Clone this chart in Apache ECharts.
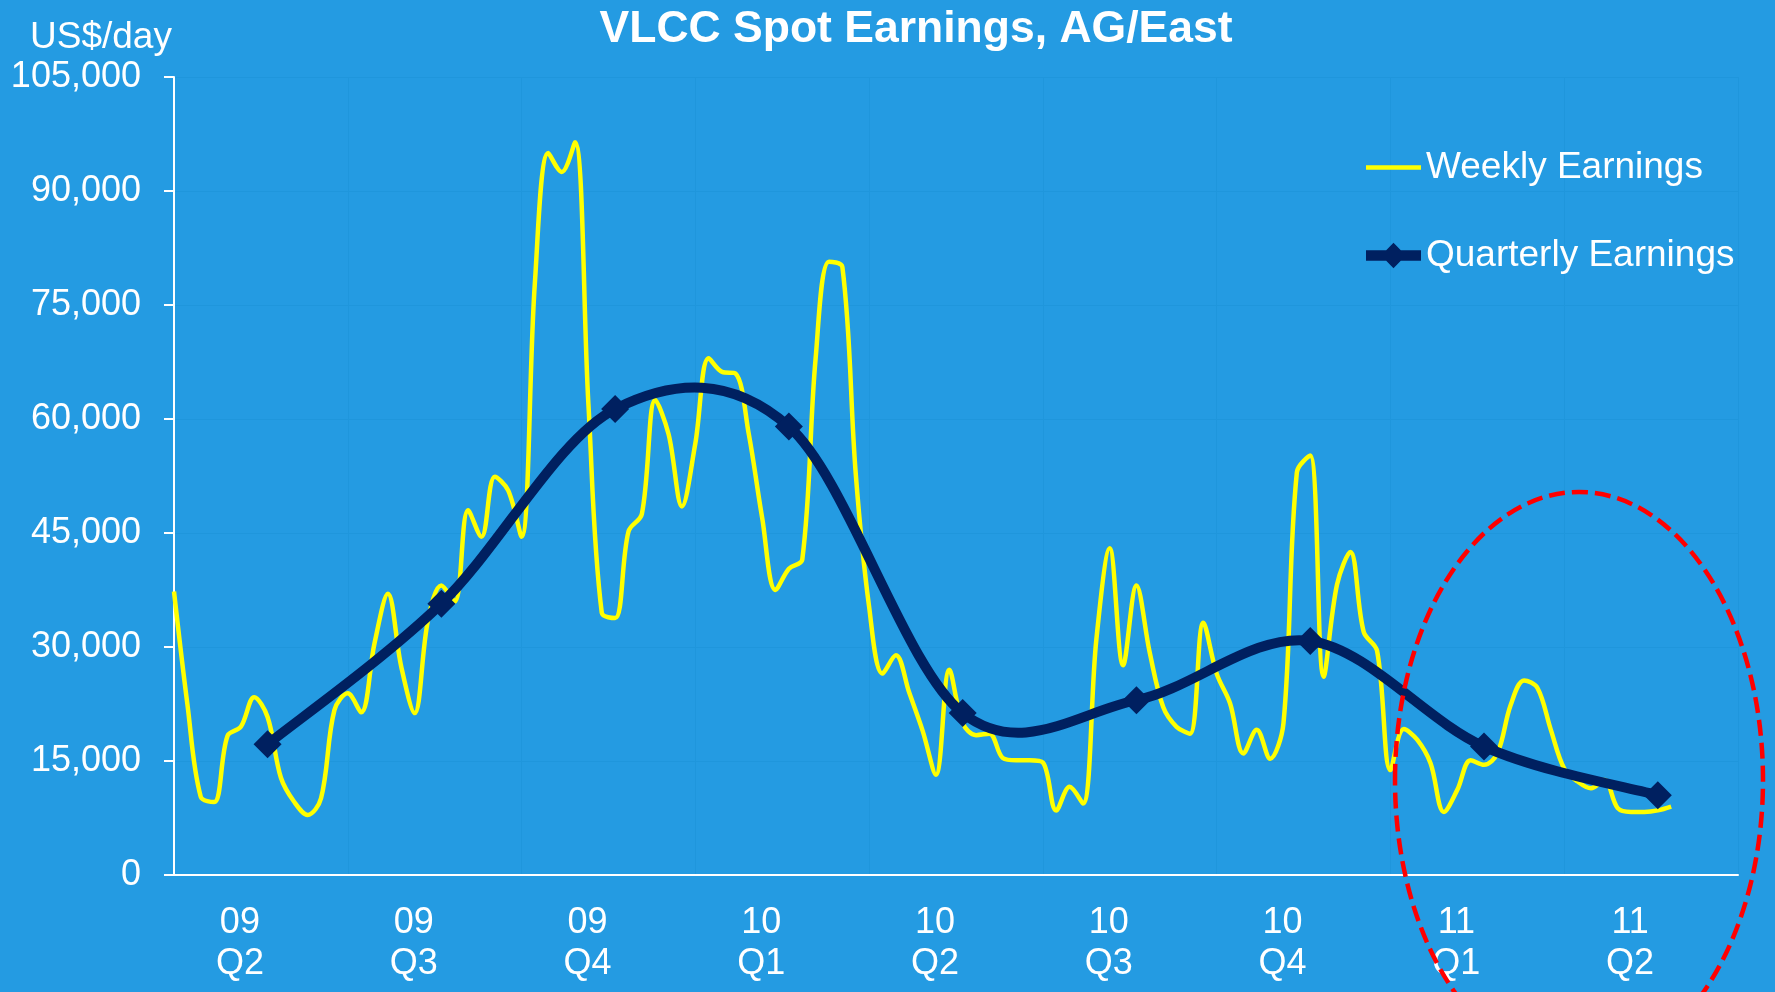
<!DOCTYPE html>
<html>
<head>
<meta charset="utf-8">
<title>VLCC Spot Earnings, AG/East</title>
<script src="https://cdn.jsdelivr.net/npm/echarts@6/dist/echarts.min.js"></script>
<style>
	html, body { margin: 0; padding: 0; background: #249be2; }
	#main { width: 1775px; height: 992px; }
</style>
</head>
<body>
<div id="main"></div>
<script>
// x axis: quarters
var quarters = ['09\nQ2', '09\nQ3', '09\nQ4', '10\nQ1', '10\nQ2', '10\nQ3', '10\nQ4', '11\nQ1', '11\nQ2'];
var weeksPerQuarter = 13;
// weekly earnings, US$/day, one value a week from the start of 09 Q2
var weeklyEarnings = [
	37300, 22500, 10300, 9600, 18300, 19500, 23400, 20800, 12800, 9600,
	7900, 10100, 21700, 23900, 21400, 30500, 37000, 27400, 21300, 33500,
	38100, 36000, 48000, 44500, 52400, 50600, 44500, 78000, 95000, 92500,
	96400, 62000, 34500, 33800, 45200, 47500, 62500, 58000, 48500, 56800,
	68000, 66200, 66000, 58000, 47000, 37500, 40300, 41500, 68000, 80700,
	80000, 52800, 35300, 26500, 28900, 24000, 19000, 13200, 27000, 20000,
	18400, 18600, 15400, 15100, 15100, 14800, 8500, 11600, 9400, 31000,
	43000, 27600, 38100, 29200, 22100, 19500, 18600, 33200, 26500, 22600,
	16000, 19100, 15300, 20000, 53000, 55200, 26100, 38200, 42500, 32000,
	29500, 13800, 19200, 17800, 14700, 8300, 11200, 15100, 14500, 16000,
	22400, 25600, 24600, 19100, 14000, 12300, 11400, 12500, 8800, 8300,
	8300, 8500, 9000
];
// quarterly earnings and the week each one is plotted at
var quarterlyWeek = [7, 20, 33, 46, 59, 72, 85, 98, 111];
var quarterlyEarnings = [17200, 35700, 61300, 59000, 21300, 23000, 30800, 16900, 10500];
// y axis
var yMin = 0, yMax = 105000, yStep = 15000;

var FONT = '"Liberation Sans", Arial, sans-serif';
var NAVY = '#002060';

function thousands(v) {
	return String(v).replace(/\B(?=(\d{3})+(?!\d))/g, ',');
}

var myChart = echarts.init(document.getElementById('main'));

var weeklyData = weeklyEarnings.map(function (v, i) { return [i, v]; });
var quarterlyData = quarterlyEarnings.map(function (v, i) { return [quarterlyWeek[i], v]; });

// excel style spline: one bezier piece from point i to point i+1
function quarterlyCurve(params, api) {
	var i = params.dataIndex;
	var n = quarterlyData.length;
	if (i >= n - 1) {
		return { type: 'group', children: [] };
	}
	var pt = function (k) {
		k = Math.max(0, Math.min(n - 1, k));
		return api.coord(quarterlyData[k]);
	};
	var p0 = pt(i - 1), p1 = pt(i), p2 = pt(i + 1), p3 = pt(i + 2);
	return {
		type: 'bezierCurve',
		shape: {
			x1: p1[0], y1: p1[1],
			x2: p2[0], y2: p2[1],
			cpx1: p1[0] + (p2[0] - p0[0]) / 6, cpy1: p1[1] + (p2[1] - p0[1]) / 6,
			cpx2: p2[0] - (p3[0] - p1[0]) / 6, cpy2: p2[1] - (p3[1] - p1[1]) / 6
		},
		style: { stroke: NAVY, lineWidth: 10, fill: null, lineCap: 'round' }
	};
}

var option = {
	animation: false,
	backgroundColor: '#249be2',
	title: [{
		text: 'VLCC Spot Earnings, AG/East',
		left: 916,
		top: 7,
		padding: 0,
		textAlign: 'center',
		textStyle: { color: '#fff', fontSize: 44.5, fontWeight: 'bold', fontFamily: FONT }
	}, {
		text: 'US$/day',
		left: 30,
		top: 19,
		padding: 0,
		textStyle: { color: '#fff', fontSize: 37, fontWeight: 'normal', fontFamily: FONT }
	}],
	legend: {
		orient: 'vertical',
		left: 1366,
		top: 149,
		padding: 0,
		itemWidth: 55,
		itemHeight: 28,
		itemGap: 51,
		symbolKeepAspect: true,
		textStyle: { color: '#fff', fontSize: 37, fontFamily: FONT },
		data: [{
			name: 'Weekly Earnings',
			icon: 'path://M0,0L58,0L58,5L0,5Z'
		}, {
			name: 'Quarterly Earnings',
			icon: 'path://M0,8L21.3,8L29,0L36.7,8L58,8L58,19L36.7,19L29,27L21.3,19L0,19Z'
		}]
	},
	grid: {
		left: 174,
		right: 37,
		top: 77,
		bottom: 117,
		outerBoundsMode: 'none',
		containLabel: false
	},
	xAxis: [{
		type: 'category',
		data: quarters,
		boundaryGap: true,
		axisLine: { lineStyle: { color: '#fff', width: 2 } },
		axisTick: { inside: true, length: 10, interval: 0, lineStyle: { color: '#fff', width: 2 } },
		axisLabel: {
			interval: 0,
			color: '#fff',
			fontSize: 36,
			fontFamily: FONT,
			lineHeight: 41,
			margin: 28,
			padding: [0, 42, 0, 0]
		},
		splitLine: { show: true, lineStyle: { color: '#1f96dc', width: 1 } }
	}, {
		type: 'value',
		min: 0,
		max: quarters.length * weeksPerQuarter,
		show: false
	}],
	yAxis: {
		type: 'value',
		min: yMin,
		max: yMax,
		interval: yStep,
		axisLine: { show: true, lineStyle: { color: '#fff', width: 2 } },
		axisTick: { show: true, length: 10, lineStyle: { color: '#fff', width: 2 } },
		axisLabel: {
			color: '#fff',
			fontSize: 36,
			fontFamily: FONT,
			margin: 33,
			formatter: thousands
		},
		splitLine: { show: true, lineStyle: { color: '#1f96dc', width: 1 } }
	},
	series: [{
		name: 'Weekly Earnings',
		type: 'line',
		xAxisIndex: 1,
		data: weeklyData,
		smooth: 0.35,
		symbol: 'none',
		lineStyle: { color: '#ffff00', width: 4.5 },
		itemStyle: { color: '#ffff00' },
		z: 2
	}, {
		// smooth quarterly curve
		name: 'Quarterly curve',
		type: 'custom',
		xAxisIndex: 1,
		data: quarterlyData,
		renderItem: quarterlyCurve,
		silent: true,
		z: 3
	}, {
		// quarterly markers
		name: 'Quarterly Earnings',
		type: 'line',
		xAxisIndex: 1,
		data: quarterlyData,
		symbol: 'diamond',
		symbolSize: 28,
		lineStyle: { width: 0, opacity: 0 },
		itemStyle: { color: NAVY },
		z: 4
	}],
	graphic: [{
		type: 'ellipse',
		z: 100,
		silent: true,
		shape: { cx: 1579, cy: 780, rx: 184, ry: 288 },
		style: { fill: null, stroke: '#ff0000', lineWidth: 4.5, lineDash: [16, 7] }
	}]
};

myChart.setOption(option);
window.addEventListener('resize', function () {
	myChart.resize();
});
</script>
</body>
</html>
